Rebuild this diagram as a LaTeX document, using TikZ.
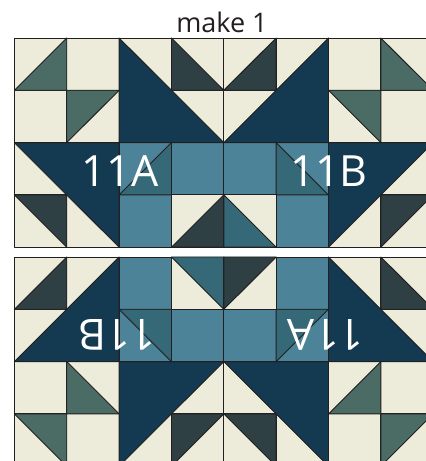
\documentclass[tikz,border=0pt]{standalone}
\usepackage{fontspec}
\setmainfont{Open Sans}
\definecolor{cream}{HTML}{EDEBD9}
\definecolor{sage}{HTML}{4A6C64}
\definecolor{navy}{HTML}{133A50}
\definecolor{slate}{HTML}{2E4043}
\definecolor{tealL}{HTML}{4C8398}
\definecolor{tealD}{HTML}{356977}
\definecolor{ink}{HTML}{231F20}
\tikzset{
  patch/.style={draw=ink,line width=0.9pt,line join=round},
  bigtext/.style={text=white,font=\fontsize{43}{43}\selectfont,inner sep=0pt},
  titletext/.style={text=ink,font=\fontsize{27}{27}\selectfont,inner sep=0pt}
}
% right-angle corner of the coloured triangle in cell (column, row)
\newcommand{\triLL}[3]{\path[patch,fill=#3] (#1,#2) -- (#1+1,#2+1) -- (#1,#2+1) -- cycle;}
\newcommand{\triLR}[3]{\path[patch,fill=#3] (#1+1,#2) -- (#1+1,#2+1) -- (#1,#2+1) -- cycle;}
\newcommand{\triUL}[3]{\path[patch,fill=#3] (#1,#2) -- (#1+1,#2) -- (#1,#2+1) -- cycle;}
\newcommand{\triUR}[3]{\path[patch,fill=#3] (#1,#2) -- (#1+1,#2) -- (#1+1,#2+1) -- cycle;}
% #1, #2: colours of the small triangles beside the centre line in the outermost-inner row
\newcommand{\quiltblock}[2]{%
  \foreach \c/\r/\bg in {1/0/cream,6/0/cream,0/1/cream,7/1/cream,
                         2/0/cream,5/0/cream,3/1/cream,4/1/cream,
                         0/2/cream,7/2/cream,1/3/cream,6/3/cream,
                         3/2/tealL,4/2/tealL,2/3/tealL,5/3/tealL}
    {\path[patch,fill=\bg] (\c,\r) rectangle (\c+1,\r+1);}
  \foreach \c/\r/\k/\bg/\fg in {
      0/0/LR/cream/sage, 3/0/LL/cream/slate, 4/0/LR/cream/slate, 7/0/LL/cream/sage,
      1/1/UL/cream/sage, 6/1/UR/cream/sage,
      2/2/LR/tealL/tealD, 5/2/LL/tealL/tealD,
      0/3/UR/cream/slate, 3/3/LR/cream/#1, 4/3/LL/cream/#2, 7/3/UL/cream/slate}
    {\path[patch,fill=\bg] (\c,\r) rectangle (\c+1,\r+1);
     \csname tri\k\endcsname{\c}{\r}{\fg}}%
  \path[patch,fill=navy] (2,0) -- (4,2) -- (2,2) -- cycle;
  \path[patch,fill=navy] (6,0) -- (4,2) -- (6,2) -- cycle;
  \path[patch,fill=navy] (0,2) -- (2,2) -- (2,4) -- cycle;
  \path[patch,fill=navy] (8,2) -- (6,2) -- (6,4) -- cycle;
}
\begin{document}
\begin{tikzpicture}[x=1pt,y=1pt]
  \useasboundingbox (0,0) rectangle (426,461);
  \fill[white] (0,0) rectangle (426,461);
  \begin{scope}
    \clip (0,0) rectangle (426,461);
    \begin{scope}[shift={(14.4,423)},x=52.35pt,y=-52.3pt]
      \quiltblock{slate}{tealD}
    \end{scope}
    \begin{scope}[shift={(14.4,-5.2)},x=52.35pt,y=52.3pt]
      \quiltblock{tealD}{slate}
    \end{scope}
  \end{scope}
  \node[titletext] (title) at (222,439) {make 1};
  \node[bigtext] (a1) at (120,290) {11A};
  \node[bigtext] (b1) at (329,290) {11B};
  \node[bigtext,rotate=180] (b2) at (117,126) {11B};
  \node[bigtext,rotate=180] (a2) at (325.5,126) {11A};
\end{tikzpicture}
\end{document}
